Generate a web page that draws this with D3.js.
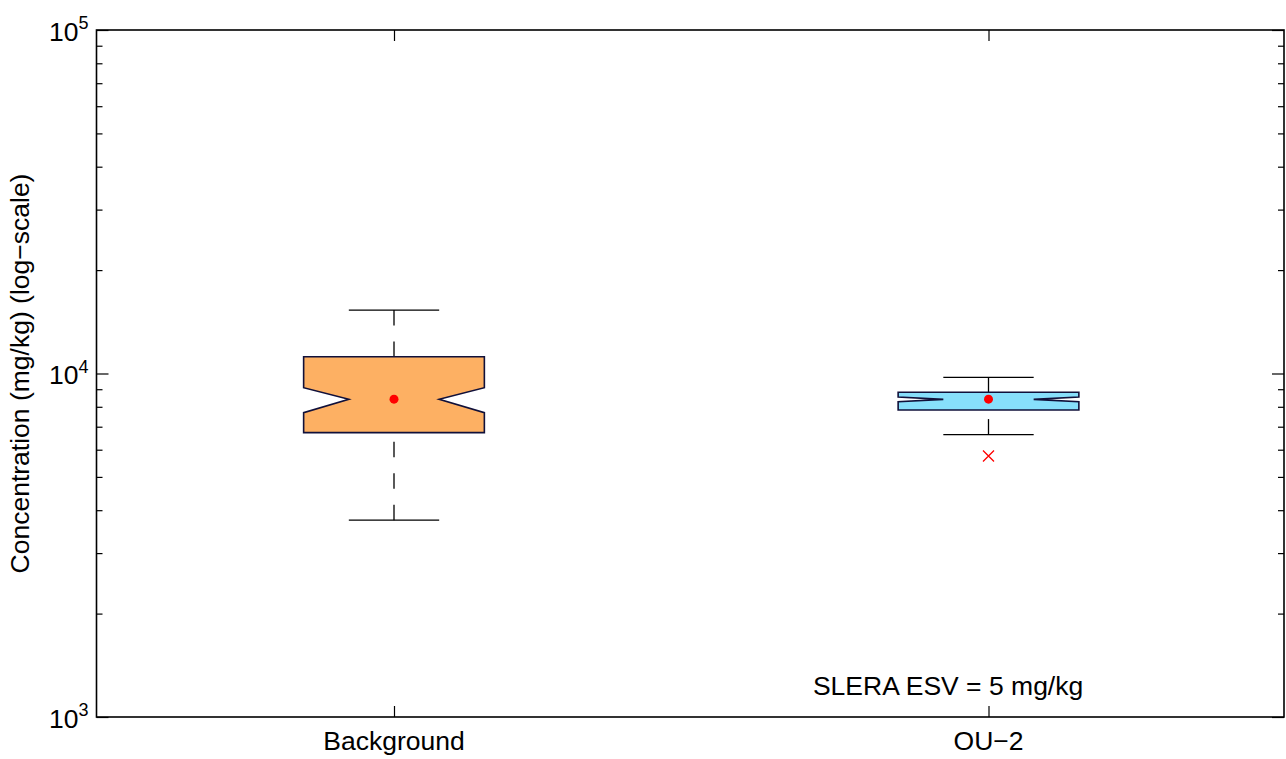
<!DOCTYPE html>
<html>
<head>
<meta charset="utf-8">
<script src="https://cdn.jsdelivr.net/npm/d3@7"></script>
<style>
  html, body { margin: 0; padding: 0; background: #fff; }
  text { font-family: "Liberation Sans", Arial, Helvetica, sans-serif; fill: #000; }
</style>
</head>
<body>
<svg id="chart" width="1286" height="759"></svg>
<script>
// ---- data ----
const categories = ["Background", "OU\u22122"];
const whiskerLow  = [3740, 6640];
const q1          = [6730, 7830];
const notchLow    = [7690, 8280];
const medians     = [8410, 8410];
const notchHigh   = [9090, 8540];
const q3          = [11190, 8820];
const whiskerHigh = [15300, 9750];
const means       = [8420, 8420];
const outliers    = [[], [5750]];
const boxColors   = ["#FDB063", "#87DFFB"];
const majorTicks  = [1e3, 1e4, 1e5];
const majorExps   = ["3", "4", "5"];
const annotation  = "SLERA ESV = 5 mg/kg";
const yLabel      = "Concentration (mg/kg) (log\u2212scale)";

// ---- layout ----
const svg = d3.select("#chart");
const L = 96.5, R = 1284, T = 30, B = 717;
const x = d3.scaleLinear().domain([0.5, 2.5]).range([96.75, 1285.75]);
const y = d3.scaleLog().domain([1e3, 1e5]).range([B, T]);
const boxHalf = 0.152;   // half box width in data units
const notchIn = 0.076;   // notch depth
const capHalf = 0.076;
const FS = "26.5px";

const minorTicks = [];
for (let e = 3; e < 5; e++) for (let m = 2; m <= 9; m++) minorTicks.push(m * Math.pow(10, e));

const g = svg.append("g");

// axes ticks (inward)
function tickAxis(axisFn, scale, vals, size, tx, ty) {
  const a = g.append("g").attr("transform", `translate(${tx},${ty})`)
    .call(axisFn(scale).tickValues(vals).tickSize(size).tickFormat(""));
  a.select(".domain").remove();
  a.selectAll("line").attr("stroke", "#000").attr("stroke-width", 1.2);
  return a;
}
tickAxis(d3.axisLeft, y, majorTicks, -12, L, 0);
tickAxis(d3.axisLeft, y, minorTicks, -6, L, 0);
tickAxis(d3.axisRight, y, majorTicks, -12, R, 0);
tickAxis(d3.axisRight, y, minorTicks, -6, R, 0);
tickAxis(d3.axisBottom, x, [1, 2], -11, 0, B);
tickAxis(d3.axisTop, x, [1, 2], -11, 0, T);

// frame
g.append("rect").attr("x", L).attr("y", T).attr("width", R - L).attr("height", B - T)
  .attr("fill", "none").attr("stroke", "#000").attr("stroke-width", 1.6);

// y tick labels with superscripts
majorTicks.forEach((v, i) => {
  const t = g.append("text").attr("x", L - 8).attr("y", y(v) + 10.5)
    .attr("text-anchor", "end").style("font-size", FS);
  t.append("tspan").text("10");
  t.append("tspan").text(majorExps[i]).style("font-size", "18px").attr("dy", -11.5);
});

// x tick labels
categories.forEach((c, i) => {
  g.append("text").attr("x", x(i + 1)).attr("y", 750).attr("text-anchor", "middle")
    .style("font-size", FS).text(c);
});

// y label
g.append("text").attr("transform", `translate(29,${(T + B) / 2}) rotate(-90)`)
  .attr("text-anchor", "middle").style("font-size", FS).text(yLabel);

// annotation
g.append("text").attr("x", x(1.932)).attr("y", y(1160)).attr("text-anchor", "middle")
  .style("font-size", FS).text(annotation);

// boxes
categories.forEach((c, i) => {
  const cx = i + 1;
  // whiskers (dashed from end toward box)
  [[whiskerHigh[i], q3[i]], [whiskerLow[i], q1[i]]].forEach(([a, b]) => {
    g.append("line").attr("x1", x(cx)).attr("x2", x(cx)).attr("y1", y(a)).attr("y2", y(b))
      .attr("stroke", "#000").attr("stroke-width", 1.3).attr("stroke-dasharray", "15.5,16");
    g.append("line").attr("x1", x(cx - capHalf)).attr("x2", x(cx + capHalf))
      .attr("y1", y(a)).attr("y2", y(a)).attr("stroke", "#000").attr("stroke-width", 1.3);
  });
  const pts = [
    [cx - boxHalf, q1[i]], [cx - boxHalf, notchLow[i]], [cx - boxHalf + notchIn, medians[i]],
    [cx - boxHalf, notchHigh[i]], [cx - boxHalf, q3[i]], [cx + boxHalf, q3[i]],
    [cx + boxHalf, notchHigh[i]], [cx + boxHalf - notchIn, medians[i]], [cx + boxHalf, notchLow[i]],
    [cx + boxHalf, q1[i]]
  ];
  g.append("path").attr("d", d3.line().x(d => x(d[0])).y(d => y(d[1]))(pts) + "Z")
    .attr("fill", boxColors[i]).attr("stroke", "#10103a").attr("stroke-width", 1.6)
    .attr("stroke-linejoin", "miter");
  g.append("circle").attr("cx", x(cx)).attr("cy", y(means[i])).attr("r", 4.5).attr("fill", "#ff0000");
  outliers[i].forEach(o => {
    const px = x(cx), py = y(o), s = 5.5;
    g.append("path").attr("d", `M${px - s},${py - s}L${px + s},${py + s}M${px - s},${py + s}L${px + s},${py - s}`)
      .attr("stroke", "#ff0000").attr("stroke-width", 1.3).attr("fill", "none");
  });
});
</script>
</body>
</html>
